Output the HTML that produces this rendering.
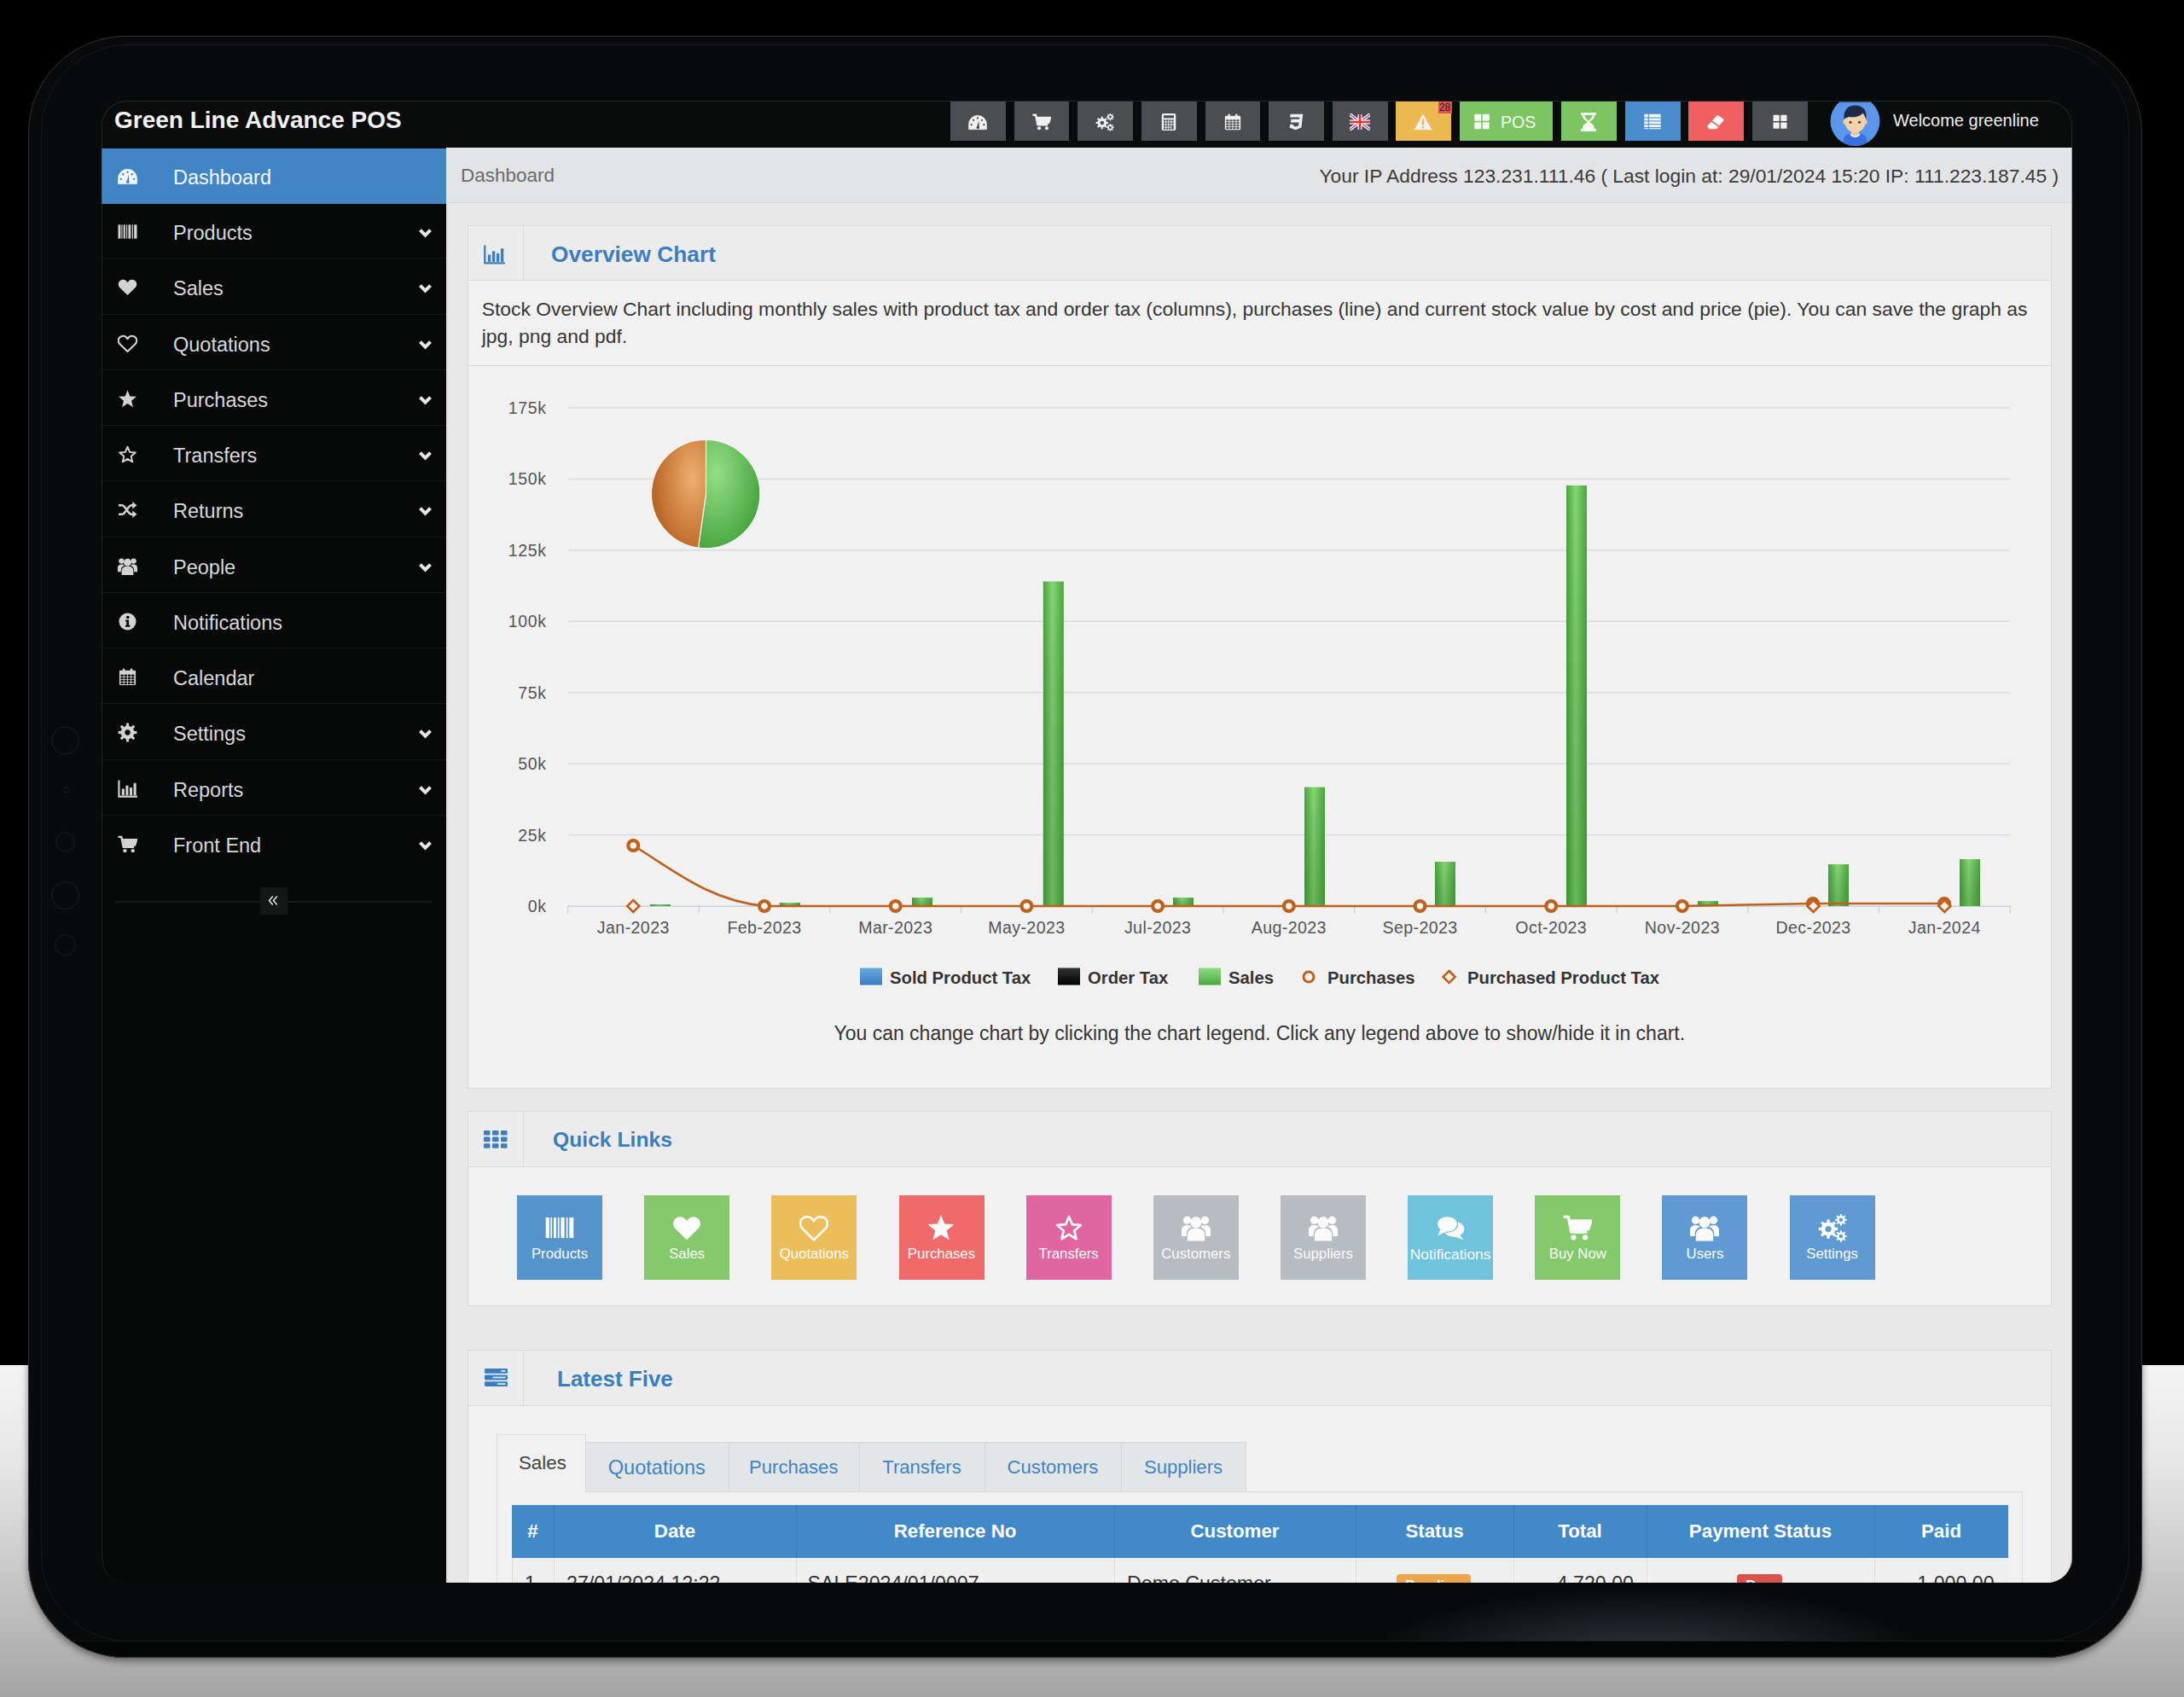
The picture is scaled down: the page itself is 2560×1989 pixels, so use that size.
<!DOCTYPE html>
<html><head><meta charset="utf-8"><style>
html,body{margin:0;padding:0;}
body{width:2560px;height:1989px;overflow:hidden;position:relative;background:#000;font-family:"Liberation Sans", sans-serif;}
</style></head><body>
<div style="position:absolute;left:0px;top:1600px;width:2560px;height:389px;background:linear-gradient(180deg,#f4f4f4 0%,#e6e6e6 30%,#bdbdbd 75%,#a4a4a4 100%)"></div><div style="position:absolute;left:33px;top:42px;width:2478px;height:1901px;background:#090a0b;border-radius:114px;overflow:hidden;box-shadow:0 4px 8px rgba(0,0,0,0.45)"><div style="position:absolute;left:1550px;top:1815px;width:700px;height:90px;background:radial-gradient(ellipse 330px 85px at 50% 100%,rgba(72,75,88,0.7),rgba(40,42,48,0))"></div><div style="position:absolute;left:0;top:1881px;width:2478px;height:20px;background:#040505;border-top:1px solid #121415"></div></div><div style="position:absolute;left:33px;top:42px;width:2478px;height:1901px;border-radius:114px;box-sizing:border-box;border:1.5px solid #2e3132"></div><div style="position:absolute;left:48px;top:52px;width:2448px;height:1872px;border-radius:102px;box-sizing:border-box;border:1px solid #17191a"></div><svg style="position:absolute;left:50px;top:840px;width:60px;height:300px" viewBox="50 840 60 300"><circle cx="76.7" cy="868" r="16" fill="none" stroke="#1d1f20" stroke-width="1"/><circle cx="78" cy="926" r="3" fill="none" stroke="#17191a" stroke-width="1"/><circle cx="76.7" cy="987" r="11" fill="none" stroke="#1b1d1e" stroke-width="1"/><circle cx="76.7" cy="1049.5" r="16" fill="none" stroke="#1d1f20" stroke-width="1"/><circle cx="76.7" cy="1107.6" r="12" fill="none" stroke="#1b1d1e" stroke-width="1"/></svg><div style="position:absolute;left:119px;top:118px;width:2310px;height:1737px;border-radius:29px;overflow:hidden;background:#0a0b0b"><div style="position:absolute;left:-119px;top:-118px;width:2560px;height:1989px"><div style="position:absolute;left:119px;top:118px;width:2310px;height:55px;background:#0a0b0b"></div><div style="position:absolute;left:134px;top:124.0px;line-height:34px;font-size:28px;color:#f2f2f2;font-weight:700;white-space:nowrap;">Green Line Advance POS</div><div style="position:absolute;left:1114px;top:119px;width:64.5px;height:46.2px;background:#4b4e51"></div><svg style="position:absolute;left:1135.25px;top:131.5px;width:22px;height:22px;" viewBox="0 0 24 24"><path d="M0.5 21.5 V15 A11.5 11.5 0 0 1 23.5 15 V21.5 Z" fill="#f0f0f0" stroke="#f0f0f0" stroke-width="0.6" stroke-linejoin="round"/><circle cx="4" cy="15.5" r="1.25" fill="#4b4e51"/><circle cx="6.6" cy="9.6" r="1.25" fill="#4b4e51"/><circle cx="12" cy="7" r="1.25" fill="#4b4e51"/><circle cx="17.4" cy="9.6" r="1.25" fill="#4b4e51"/><circle cx="20" cy="15.5" r="1.25" fill="#4b4e51"/><path d="M10.6 19 L13.6 10 L13.9 19.2 Z" fill="#4b4e51"/><circle cx="12.3" cy="19" r="1.9" fill="#4b4e51"/></svg><div style="position:absolute;left:1188.6px;top:119px;width:64.5px;height:46.2px;background:#4b4e51"></div><svg style="position:absolute;left:1209.85px;top:131.5px;width:22px;height:22px;" viewBox="0 0 24 24"><path d="M0.5 3 H4.5 L7 15.5 H20 M6.5 6.5 H23 L21 13 H7.8" fill="none" stroke="#f0f0f0" stroke-width="2.6" stroke-linejoin="round"/><path d="M6 6 H23 L21.2 13 H7.5 Z" fill="#f0f0f0"/><circle cx="8.8" cy="20" r="2.2" fill="#f0f0f0"/><circle cx="18.5" cy="20" r="2.2" fill="#f0f0f0"/></svg><div style="position:absolute;left:1263px;top:119px;width:64.5px;height:46.2px;background:#4b4e51"></div><svg style="position:absolute;left:1284.25px;top:131.5px;width:22px;height:22px;" viewBox="0 0 24 24"><path d="M14.17,11.76 L16.42,11.90 L16.42,14.10 L14.17,14.24 L13.38,16.13 L14.88,17.83 L13.33,19.38 L11.63,17.88 L9.74,18.67 L9.60,20.92 L7.40,20.92 L7.26,18.67 L5.37,17.88 L3.67,19.38 L2.12,17.83 L3.62,16.13 L2.83,14.24 L0.58,14.10 L0.58,11.90 L2.83,11.76 L3.62,9.87 L2.12,8.17 L3.67,6.62 L5.37,8.12 L7.26,7.33 L7.40,5.08 L9.60,5.08 L9.74,7.33 L11.63,8.12 L13.33,6.62 L14.88,8.17 L13.38,9.87 Z" fill="#f0f0f0"/><circle cx="8.5" cy="13" r="2.5" fill="#4b4e51"/><path d="M22.32,4.77 L23.75,4.84 L23.75,6.16 L22.32,6.23 L21.86,7.33 L22.83,8.40 L21.90,9.33 L20.83,8.36 L19.73,8.82 L19.66,10.25 L18.34,10.25 L18.27,8.82 L17.17,8.36 L16.10,9.33 L15.17,8.40 L16.14,7.33 L15.68,6.23 L14.25,6.16 L14.25,4.84 L15.68,4.77 L16.14,3.67 L15.17,2.60 L16.10,1.67 L17.17,2.64 L18.27,2.18 L18.34,0.75 L19.66,0.75 L19.73,2.18 L20.83,2.64 L21.90,1.67 L22.83,2.60 L21.86,3.67 Z" fill="#f0f0f0"/><circle cx="19" cy="5.5" r="1.6" fill="#4b4e51"/><path d="M22.32,18.27 L23.75,18.34 L23.75,19.66 L22.32,19.73 L21.86,20.83 L22.83,21.90 L21.90,22.83 L20.83,21.86 L19.73,22.32 L19.66,23.75 L18.34,23.75 L18.27,22.32 L17.17,21.86 L16.10,22.83 L15.17,21.90 L16.14,20.83 L15.68,19.73 L14.25,19.66 L14.25,18.34 L15.68,18.27 L16.14,17.17 L15.17,16.10 L16.10,15.17 L17.17,16.14 L18.27,15.68 L18.34,14.25 L19.66,14.25 L19.73,15.68 L20.83,16.14 L21.90,15.17 L22.83,16.10 L21.86,17.17 Z" fill="#f0f0f0"/><circle cx="19" cy="19" r="1.6" fill="#4b4e51"/></svg><div style="position:absolute;left:1338px;top:119px;width:64.5px;height:46.2px;background:#4b4e51"></div><svg style="position:absolute;left:1359.25px;top:131.5px;width:22px;height:22px;" viewBox="0 0 24 24"><rect x="3" y="1" width="18" height="22" rx="2" fill="#f0f0f0"/><rect x="5.5" y="3.5" width="13" height="3.5" fill="#4b4e51"/><rect x="5.5" y="9.0" width="2.4" height="2.4" fill="#4b4e51"/><rect x="5.5" y="12.4" width="2.4" height="2.4" fill="#4b4e51"/><rect x="5.5" y="15.8" width="2.4" height="2.4" fill="#4b4e51"/><rect x="5.5" y="19.2" width="2.4" height="2.4" fill="#4b4e51"/><rect x="8.9" y="9.0" width="2.4" height="2.4" fill="#4b4e51"/><rect x="8.9" y="12.4" width="2.4" height="2.4" fill="#4b4e51"/><rect x="8.9" y="15.8" width="2.4" height="2.4" fill="#4b4e51"/><rect x="8.9" y="19.2" width="2.4" height="2.4" fill="#4b4e51"/><rect x="12.3" y="9.0" width="2.4" height="2.4" fill="#4b4e51"/><rect x="12.3" y="12.4" width="2.4" height="2.4" fill="#4b4e51"/><rect x="12.3" y="15.8" width="2.4" height="2.4" fill="#4b4e51"/><rect x="12.3" y="19.2" width="2.4" height="2.4" fill="#4b4e51"/><rect x="15.7" y="9.0" width="2.4" height="2.4" fill="#4b4e51"/><rect x="15.7" y="12.4" width="2.4" height="2.4" fill="#4b4e51"/><rect x="15.7" y="15.8" width="2.4" height="5.8" fill="#4b4e51"/></svg><div style="position:absolute;left:1412.5px;top:119px;width:64.5px;height:46.2px;background:#4b4e51"></div><svg style="position:absolute;left:1433.75px;top:131.5px;width:22px;height:22px;" viewBox="0 0 24 24"><rect x="2" y="4" width="20" height="18" rx="1.5" fill="#f0f0f0"/><rect x="6" y="1.5" width="2.5" height="5" rx="1" fill="#f0f0f0"/><rect x="15.5" y="1.5" width="2.5" height="5" rx="1" fill="#f0f0f0"/><rect x="3.6" y="9.0" width="3.4" height="2.3" fill="#4b4e51"/><rect x="3.6" y="12.2" width="3.4" height="2.3" fill="#4b4e51"/><rect x="3.6" y="15.4" width="3.4" height="2.3" fill="#4b4e51"/><rect x="3.6" y="18.6" width="3.4" height="2.3" fill="#4b4e51"/><rect x="8.0" y="9.0" width="3.4" height="2.3" fill="#4b4e51"/><rect x="8.0" y="12.2" width="3.4" height="2.3" fill="#4b4e51"/><rect x="8.0" y="15.4" width="3.4" height="2.3" fill="#4b4e51"/><rect x="8.0" y="18.6" width="3.4" height="2.3" fill="#4b4e51"/><rect x="12.4" y="9.0" width="3.4" height="2.3" fill="#4b4e51"/><rect x="12.4" y="12.2" width="3.4" height="2.3" fill="#4b4e51"/><rect x="12.4" y="15.4" width="3.4" height="2.3" fill="#4b4e51"/><rect x="12.4" y="18.6" width="3.4" height="2.3" fill="#4b4e51"/><rect x="16.8" y="9.0" width="3.4" height="2.3" fill="#4b4e51"/><rect x="16.8" y="12.2" width="3.4" height="2.3" fill="#4b4e51"/><rect x="16.8" y="15.4" width="3.4" height="2.3" fill="#4b4e51"/><rect x="16.8" y="18.6" width="3.4" height="2.3" fill="#4b4e51"/></svg><div style="position:absolute;left:1487px;top:119px;width:64.5px;height:46.2px;background:#4b4e51"></div><svg style="position:absolute;left:1508.25px;top:131.5px;width:22px;height:22px;" viewBox="0 0 24 24"><path d="M5 2 H21 L19 19 L11.5 22 L4 19 L4.6 15 H8.6 L8.3 16.6 L11.8 18 L15.4 16.6 L15.9 12.5 H5.4 L6 8.5 H16.4 L16.8 6 H4.6 Z" fill="#f0f0f0"/></svg><div style="position:absolute;left:1562px;top:119px;width:64.5px;height:46.2px;background:#4b4e51"></div><svg style="position:absolute;left:1582.25px;top:132.5px;width:24px;height:20px;" viewBox="0 3 24 18"><rect x="0" y="3" width="24" height="18" fill="#2a4a8a"/><path d="M0 3 L24 21 M24 3 L0 21" stroke="#fff" stroke-width="4"/><path d="M0 3 L24 21 M24 3 L0 21" stroke="#d33" stroke-width="1.3"/><rect x="9.5" y="3" width="5" height="18" fill="#fff"/><rect x="0" y="9.5" width="24" height="5" fill="#fff"/><rect x="10.7" y="3" width="2.6" height="18" fill="#d33"/><rect x="0" y="10.7" width="24" height="2.6" fill="#d33"/></svg><div style="position:absolute;left:1636px;top:119px;width:64.5px;height:46.2px;background:#ebb94f"></div><svg style="position:absolute;left:1657.25px;top:131.5px;width:22px;height:22px;" viewBox="0 0 24 24"><path d="M12 1.5 L23.5 22 H0.5 Z" fill="#f0f0f0"/><rect x="10.8" y="8" width="2.4" height="8" fill="#ebb94f"/><rect x="10.8" y="17.5" width="2.4" height="2.4" fill="#ebb94f"/></svg><div style="position:absolute;left:1685.5px;top:119px;width:16px;height:13.8px;background:#e0524f"></div><div style="position:absolute;left:1193.5px;width:1000px;text-align:center;top:119.5px;line-height:13px;font-size:12px;color:#1a1a1a;font-weight:400;white-space:nowrap;">28</div><div style="position:absolute;left:1711.4px;top:119px;width:108.6px;height:46.2px;background:#7dc462"></div><svg style="position:absolute;left:1727px;top:133px;width:20px;height:19px;" viewBox="0 0 24 24"><rect x="1" y="1" width="10" height="10" rx="1" fill="#f4fbf0"/><rect x="13" y="1" width="10" height="10" rx="1" fill="#f4fbf0"/><rect x="1" y="13" width="10" height="10" rx="1" fill="#f4fbf0"/><rect x="13" y="13" width="10" height="10" rx="1" fill="#f4fbf0"/></svg><div style="position:absolute;left:1759px;top:131.5px;line-height:22px;font-size:19.5px;color:#f4fbf0;font-weight:400;white-space:nowrap;">POS</div><div style="position:absolute;left:1829.6px;top:119px;width:65px;height:46.2px;background:#7dc462"></div><div style="position:absolute;left:1904.5px;top:119px;width:65px;height:46.2px;background:#4a8ccc"></div><div style="position:absolute;left:1979px;top:119px;width:65px;height:46.2px;background:#ef6060"></div><div style="position:absolute;left:2053.5px;top:119px;width:65px;height:46.2px;background:#4b4e51"></div><svg style="position:absolute;left:1850px;top:131px;width:24px;height:24px;" viewBox="0 0 24 24"><rect x="3" y="1" width="18" height="3" fill="#f4fbf0"/><rect x="3" y="20" width="18" height="3" fill="#f4fbf0"/><path d="M5 4 C5 10 10.5 10.5 10.5 12 C10.5 13.5 5 14 5 20 H19 C19 14 13.5 13.5 13.5 12 C13.5 10.5 19 10 19 4 H16.5 C16.5 8 12.5 9 12 11 C11.5 9 7.5 8 7.5 4 Z" fill="#f4fbf0"/><path d="M7.5 19 C8 15.5 11 15 12 14 C13 15 16 15.5 16.5 19 Z" fill="#f4fbf0"/></svg><svg style="position:absolute;left:1926px;top:132px;width:22px;height:21px;" viewBox="0 0 24 24"><rect x="1" y="2" width="22" height="20" fill="#f0f6fc"/><rect x="1" y="6.3" width="22" height="1.2" fill="#4a8ccc"/><rect x="1" y="10.7" width="22" height="1.2" fill="#4a8ccc"/><rect x="1" y="15.1" width="22" height="1.2" fill="#4a8ccc"/><rect x="1" y="19.5" width="22" height="1.2" fill="#4a8ccc"/><rect x="6" y="2" width="1.2" height="20" fill="#4a8ccc"/></svg><svg style="position:absolute;left:2000px;top:132px;width:22px;height:22px;" viewBox="0 0 24 24"><path d="M14.5 3 L23 9 L13 21 H4 L1 17.5 Z" fill="#ffffff"/><path d="M7 11 L16 17.5" stroke="#ee5f5b" stroke-width="1.8"/><path d="M1.5 18 L5.5 12.5 L12.5 17.5 L9.7 21 H4 Z" fill="#ee5f5b" opacity="0.0"/></svg><svg style="position:absolute;left:2076.5px;top:134px;width:19px;height:17.5px;" viewBox="0 0 24 24"><rect x="1" y="1" width="10" height="10" rx="1" fill="#f0f0f0"/><rect x="13" y="1" width="10" height="10" rx="1" fill="#f0f0f0"/><rect x="1" y="13" width="10" height="10" rx="1" fill="#f0f0f0"/><rect x="13" y="13" width="10" height="10" rx="1" fill="#f0f0f0"/></svg><svg style="position:absolute;left:2144.5px;top:112.5px;width:59px;height:58px" viewBox="0 0 59 58"><defs><clipPath id="avc"><path d="M0 6.5 H59 V58 H0 Z"/></clipPath><clipPath id="avc2"><circle cx="29.5" cy="29" r="29"/></clipPath></defs><g clip-path="url(#avc)"><circle cx="29.5" cy="29" r="29" fill="#5a96ea"/><g clip-path="url(#avc2)"><path d="M13 60 L17 47 C20 44 24 43 29.5 43 C35 43 39 44 42 47 L46 60 Z" fill="#3a6fe2"/><path d="M23.5 44.5 C25 49 34 49 35.5 44.5 L33.5 43 C32 46 27 46 25.5 43 Z" fill="#e9f0fb"/><path d="M25 36 H34 V44 C32 47 27 47 25 44 Z" fill="#e8c79f"/><path d="M16.5 27 C16.5 18 22 15 29.5 15 C37 15 42.5 18 42.5 27 C42.5 35 37 42.5 29.5 42.5 C22 42.5 16.5 35 16.5 27 Z" fill="#f0d3ac"/><ellipse cx="16.8" cy="30" rx="1.6" ry="2.6" fill="#ecc9a0"/><ellipse cx="42.2" cy="30" rx="1.6" ry="2.6" fill="#ecc9a0"/><path d="M16.5 27 C15.5 15 22 10.5 29.5 10.5 C34 10.5 36 11.5 37.5 13 C41 14 43 19 42.5 27 C41 24 40 21 38.5 19.5 C36 23 30 25 22 24 C19 25 17.5 26 16.5 27 Z" fill="#1f2a44"/><circle cx="24" cy="30.2" r="1.5" fill="#4a3a2e"/><circle cx="34.5" cy="30.2" r="1.5" fill="#4a3a2e"/></g></g></svg><div style="position:absolute;left:2219px;top:129.0px;line-height:24px;font-size:20px;color:#f0f0f0;font-weight:400;white-space:nowrap;">Welcome greenline</div><div style="position:absolute;left:119px;top:173px;width:404px;height:1682px;background:#070808"></div><div style="position:absolute;left:119px;top:173.5px;width:404px;height:65.5px;background:#4285c5"></div><svg style="position:absolute;left:138px;top:194.5px;width:23px;height:23px;" viewBox="0 0 24 24"><path d="M0.5 21.5 V15 A11.5 11.5 0 0 1 23.5 15 V21.5 Z" fill="#f4f8fc" stroke="#f4f8fc" stroke-width="0.6" stroke-linejoin="round"/><circle cx="4" cy="15.5" r="1.25" fill="#4285c5"/><circle cx="6.6" cy="9.6" r="1.25" fill="#4285c5"/><circle cx="12" cy="7" r="1.25" fill="#4285c5"/><circle cx="17.4" cy="9.6" r="1.25" fill="#4285c5"/><circle cx="20" cy="15.5" r="1.25" fill="#4285c5"/><path d="M10.6 19 L13.6 10 L13.9 19.2 Z" fill="#4285c5"/><circle cx="12.3" cy="19" r="1.9" fill="#4285c5"/></svg><div style="position:absolute;left:203px;top:193.5px;line-height:28px;font-size:23.5px;color:#f4f8fc;font-weight:400;white-space:nowrap;">Dashboard</div><div style="position:absolute;left:119px;top:302.25px;width:404px;height:1px;background:#161818"></div><svg style="position:absolute;left:138px;top:260.0px;width:23px;height:23px;" viewBox="0 0 24 24"><rect x="0.5" y="3.5" width="3" height="17" fill="#d2d2d2"/><rect x="4.5" y="3.5" width="1.2" height="17" fill="#d2d2d2"/><rect x="7" y="3.5" width="2.2" height="17" fill="#d2d2d2"/><rect x="10.5" y="3.5" width="1.2" height="17" fill="#d2d2d2"/><rect x="13" y="3.5" width="3" height="17" fill="#d2d2d2"/><rect x="17.5" y="3.5" width="1.2" height="17" fill="#d2d2d2"/><rect x="20" y="3.5" width="3.5" height="17" fill="#d2d2d2"/></svg><div style="position:absolute;left:203px;top:259.0px;line-height:28px;font-size:23.5px;color:#d8d8d8;font-weight:400;white-space:nowrap;">Products</div><svg style="position:absolute;left:489.5px;top:264.0px;width:17px;height:17px;" viewBox="0 0 24 24"><path d="M3.5 8 L12 16.5 L20.5 8" fill="none" stroke="#e6e6e6" stroke-width="5.6" stroke-linecap="butt"/></svg><div style="position:absolute;left:119px;top:367.5px;width:404px;height:1px;background:#161818"></div><svg style="position:absolute;left:138px;top:325.25px;width:23px;height:23px;" viewBox="0 0 24 24"><path d="M12 22 L2.6 12.8 C-0.4 9.8 0.4 4.6 4.3 3.3 C7.3 2.3 10.4 3.6 12 6.4 C13.6 3.6 16.7 2.3 19.7 3.3 C23.6 4.6 24.4 9.8 21.4 12.8 Z" fill="#d2d2d2"/></svg><div style="position:absolute;left:203px;top:324.2px;line-height:28px;font-size:23.5px;color:#d8d8d8;font-weight:400;white-space:nowrap;">Sales</div><svg style="position:absolute;left:489.5px;top:329.25px;width:17px;height:17px;" viewBox="0 0 24 24"><path d="M3.5 8 L12 16.5 L20.5 8" fill="none" stroke="#e6e6e6" stroke-width="5.6" stroke-linecap="butt"/></svg><div style="position:absolute;left:119px;top:432.75px;width:404px;height:1px;background:#161818"></div><svg style="position:absolute;left:138px;top:390.5px;width:23px;height:23px;" viewBox="0 0 24 24"><path d="M12 22 L2.6 12.8 C-0.4 9.8 0.4 4.6 4.3 3.3 C7.3 2.3 10.4 3.6 12 6.4 C13.6 3.6 16.7 2.3 19.7 3.3 C23.6 4.6 24.4 9.8 21.4 12.8 Z" fill="none" stroke="#d2d2d2" stroke-width="2.2" stroke-linejoin="round"/></svg><div style="position:absolute;left:203px;top:389.5px;line-height:28px;font-size:23.5px;color:#d8d8d8;font-weight:400;white-space:nowrap;">Quotations</div><svg style="position:absolute;left:489.5px;top:394.5px;width:17px;height:17px;" viewBox="0 0 24 24"><path d="M3.5 8 L12 16.5 L20.5 8" fill="none" stroke="#e6e6e6" stroke-width="5.6" stroke-linecap="butt"/></svg><div style="position:absolute;left:119px;top:498.0px;width:404px;height:1px;background:#161818"></div><svg style="position:absolute;left:138px;top:455.75px;width:23px;height:23px;" viewBox="0 0 24 24"><polygon points="12.00,1.30 14.94,8.75 22.94,9.25 16.76,14.35 18.76,22.10 12.00,17.80 5.24,22.10 7.24,14.35 1.06,9.25 9.06,8.75" fill="#d2d2d2"/></svg><div style="position:absolute;left:203px;top:454.8px;line-height:28px;font-size:23.5px;color:#d8d8d8;font-weight:400;white-space:nowrap;">Purchases</div><svg style="position:absolute;left:489.5px;top:459.75px;width:17px;height:17px;" viewBox="0 0 24 24"><path d="M3.5 8 L12 16.5 L20.5 8" fill="none" stroke="#e6e6e6" stroke-width="5.6" stroke-linecap="butt"/></svg><div style="position:absolute;left:119px;top:563.25px;width:404px;height:1px;background:#161818"></div><svg style="position:absolute;left:138px;top:521.0px;width:23px;height:23px;" viewBox="0 0 24 24"><polygon points="12.00,2.80 14.70,9.28 21.70,9.85 16.37,14.42 18.00,21.25 12.00,17.60 6.00,21.25 7.63,14.42 2.30,9.85 9.30,9.28" fill="none" stroke="#d2d2d2" stroke-width="2" stroke-linejoin="round"/></svg><div style="position:absolute;left:203px;top:520.0px;line-height:28px;font-size:23.5px;color:#d8d8d8;font-weight:400;white-space:nowrap;">Transfers</div><svg style="position:absolute;left:489.5px;top:525.0px;width:17px;height:17px;" viewBox="0 0 24 24"><path d="M3.5 8 L12 16.5 L20.5 8" fill="none" stroke="#e6e6e6" stroke-width="5.6" stroke-linecap="butt"/></svg><div style="position:absolute;left:119px;top:628.5px;width:404px;height:1px;background:#161818"></div><svg style="position:absolute;left:138px;top:586.25px;width:23px;height:23px;" viewBox="0 0 24 24"><path d="M1 6.5 H5 C10 6.5 12 17.5 17 17.5 H19" fill="none" stroke="#d2d2d2" stroke-width="2.6"/><path d="M1 17.5 H5 C10 17.5 12 6.5 17 6.5 H19" fill="none" stroke="#d2d2d2" stroke-width="2.6"/><path d="M18 2 L23.5 6.5 L18 11 Z" fill="#d2d2d2"/><path d="M18 13 L23.5 17.5 L18 22 Z" fill="#d2d2d2"/></svg><div style="position:absolute;left:203px;top:585.2px;line-height:28px;font-size:23.5px;color:#d8d8d8;font-weight:400;white-space:nowrap;">Returns</div><svg style="position:absolute;left:489.5px;top:590.25px;width:17px;height:17px;" viewBox="0 0 24 24"><path d="M3.5 8 L12 16.5 L20.5 8" fill="none" stroke="#e6e6e6" stroke-width="5.6" stroke-linecap="butt"/></svg><div style="position:absolute;left:119px;top:693.75px;width:404px;height:1px;background:#161818"></div><svg style="position:absolute;left:138px;top:651.5px;width:23px;height:23px;" viewBox="0 0 24 24"><circle cx="12" cy="7.5" r="4.6" fill="#d2d2d2"/><path d="M4.8 23 V18.5 C4.8 13.5 8 12.3 12 12.3 C16 12.3 19.2 13.5 19.2 18.5 V23 Z" fill="#d2d2d2"/><circle cx="4.6" cy="5.8" r="3.3" fill="#d2d2d2"/><path d="M0 19 V14.5 C0 10.5 2.5 9.8 4.6 9.8 C6.5 9.8 7.8 10.3 8.4 11.3 C5.5 12.3 4 14.5 4 17.5 V19 Z" fill="#d2d2d2"/><circle cx="19.4" cy="5.8" r="3.3" fill="#d2d2d2"/><path d="M24 19 V14.5 C24 10.5 21.5 9.8 19.4 9.8 C17.5 9.8 16.2 10.3 15.6 11.3 C18.5 12.3 20 14.5 20 17.5 V19 Z" fill="#d2d2d2"/></svg><div style="position:absolute;left:203px;top:650.5px;line-height:28px;font-size:23.5px;color:#d8d8d8;font-weight:400;white-space:nowrap;">People</div><svg style="position:absolute;left:489.5px;top:655.5px;width:17px;height:17px;" viewBox="0 0 24 24"><path d="M3.5 8 L12 16.5 L20.5 8" fill="none" stroke="#e6e6e6" stroke-width="5.6" stroke-linecap="butt"/></svg><div style="position:absolute;left:119px;top:759.0px;width:404px;height:1px;background:#161818"></div><svg style="position:absolute;left:138px;top:716.75px;width:23px;height:23px;" viewBox="0 0 24 24"><circle cx="12" cy="12" r="10.5" fill="#d2d2d2"/><circle cx="12.3" cy="6.8" r="1.9" fill="#070808"/><path d="M9.5 10 H13.6 V16.5 H15 V18.5 H9.3 V16.5 H10.7 V12 H9.5 Z" fill="#070808"/></svg><div style="position:absolute;left:203px;top:715.8px;line-height:28px;font-size:23.5px;color:#d8d8d8;font-weight:400;white-space:nowrap;">Notifications</div><div style="position:absolute;left:119px;top:824.25px;width:404px;height:1px;background:#161818"></div><svg style="position:absolute;left:138px;top:782.0px;width:23px;height:23px;" viewBox="0 0 24 24"><rect x="2" y="4" width="20" height="18" rx="1.5" fill="#d2d2d2"/><rect x="6" y="1.5" width="2.5" height="5" rx="1" fill="#d2d2d2"/><rect x="15.5" y="1.5" width="2.5" height="5" rx="1" fill="#d2d2d2"/><rect x="3.6" y="9.0" width="3.4" height="2.3" fill="#070808"/><rect x="3.6" y="12.2" width="3.4" height="2.3" fill="#070808"/><rect x="3.6" y="15.4" width="3.4" height="2.3" fill="#070808"/><rect x="3.6" y="18.6" width="3.4" height="2.3" fill="#070808"/><rect x="8.0" y="9.0" width="3.4" height="2.3" fill="#070808"/><rect x="8.0" y="12.2" width="3.4" height="2.3" fill="#070808"/><rect x="8.0" y="15.4" width="3.4" height="2.3" fill="#070808"/><rect x="8.0" y="18.6" width="3.4" height="2.3" fill="#070808"/><rect x="12.4" y="9.0" width="3.4" height="2.3" fill="#070808"/><rect x="12.4" y="12.2" width="3.4" height="2.3" fill="#070808"/><rect x="12.4" y="15.4" width="3.4" height="2.3" fill="#070808"/><rect x="12.4" y="18.6" width="3.4" height="2.3" fill="#070808"/><rect x="16.8" y="9.0" width="3.4" height="2.3" fill="#070808"/><rect x="16.8" y="12.2" width="3.4" height="2.3" fill="#070808"/><rect x="16.8" y="15.4" width="3.4" height="2.3" fill="#070808"/><rect x="16.8" y="18.6" width="3.4" height="2.3" fill="#070808"/></svg><div style="position:absolute;left:203px;top:781.0px;line-height:28px;font-size:23.5px;color:#d8d8d8;font-weight:400;white-space:nowrap;">Calendar</div><div style="position:absolute;left:119px;top:889.5px;width:404px;height:1px;background:#161818"></div><svg style="position:absolute;left:138px;top:847.25px;width:23px;height:23px;" viewBox="0 0 24 24"><path d="M20.01,10.24 L23.39,10.42 L23.39,13.58 L20.01,13.76 L18.91,16.42 L21.17,18.94 L18.94,21.17 L16.42,18.91 L13.76,20.01 L13.58,23.39 L10.42,23.39 L10.24,20.01 L7.58,18.91 L5.06,21.17 L2.83,18.94 L5.09,16.42 L3.99,13.76 L0.61,13.58 L0.61,10.42 L3.99,10.24 L5.09,7.58 L2.83,5.06 L5.06,2.83 L7.58,5.09 L10.24,3.99 L10.42,0.61 L13.58,0.61 L13.76,3.99 L16.42,5.09 L18.94,2.83 L21.17,5.06 L18.91,7.58 Z" fill="#d2d2d2"/><circle cx="12" cy="12" r="3.3" fill="#070808"/></svg><div style="position:absolute;left:203px;top:846.2px;line-height:28px;font-size:23.5px;color:#d8d8d8;font-weight:400;white-space:nowrap;">Settings</div><svg style="position:absolute;left:489.5px;top:851.25px;width:17px;height:17px;" viewBox="0 0 24 24"><path d="M3.5 8 L12 16.5 L20.5 8" fill="none" stroke="#e6e6e6" stroke-width="5.6" stroke-linecap="butt"/></svg><div style="position:absolute;left:119px;top:954.75px;width:404px;height:1px;background:#161818"></div><svg style="position:absolute;left:138px;top:912.5px;width:23px;height:23px;" viewBox="0 0 24 24"><path d="M1.5 1.5 V21.5 H24" fill="none" stroke="#d2d2d2" stroke-width="2.2"/><rect x="5" y="12" width="3.2" height="8" fill="#d2d2d2"/><rect x="9.8" y="8" width="3.2" height="12" fill="#d2d2d2"/><rect x="14.6" y="10.5" width="3.2" height="9.5" fill="#d2d2d2"/><rect x="19.4" y="5" width="3.2" height="15" fill="#d2d2d2"/></svg><div style="position:absolute;left:203px;top:911.5px;line-height:28px;font-size:23.5px;color:#d8d8d8;font-weight:400;white-space:nowrap;">Reports</div><svg style="position:absolute;left:489.5px;top:916.5px;width:17px;height:17px;" viewBox="0 0 24 24"><path d="M3.5 8 L12 16.5 L20.5 8" fill="none" stroke="#e6e6e6" stroke-width="5.6" stroke-linecap="butt"/></svg><svg style="position:absolute;left:138px;top:977.75px;width:23px;height:23px;" viewBox="0 0 24 24"><path d="M0.5 3 H4.5 L7 15.5 H20 M6.5 6.5 H23 L21 13 H7.8" fill="none" stroke="#d2d2d2" stroke-width="2.6" stroke-linejoin="round"/><path d="M6 6 H23 L21.2 13 H7.5 Z" fill="#d2d2d2"/><circle cx="8.8" cy="20" r="2.2" fill="#d2d2d2"/><circle cx="18.5" cy="20" r="2.2" fill="#d2d2d2"/></svg><div style="position:absolute;left:203px;top:976.8px;line-height:28px;font-size:23.5px;color:#d8d8d8;font-weight:400;white-space:nowrap;">Front End</div><svg style="position:absolute;left:489.5px;top:981.75px;width:17px;height:17px;" viewBox="0 0 24 24"><path d="M3.5 8 L12 16.5 L20.5 8" fill="none" stroke="#e6e6e6" stroke-width="5.6" stroke-linecap="butt"/></svg><div style="position:absolute;left:134.5px;top:1056px;width:371.5px;height:1.5px;background:#1a1c1c"></div><div style="position:absolute;left:304.5px;top:1039.5px;width:32px;height:32.5px;background:#161818;border-radius:2px"></div><svg style="position:absolute;left:312px;top:1047px;width:17px;height:17px;" viewBox="0 0 24 24"><path d="M11 5 L5 12 L11 19 M18 5 L12 12 L18 19" fill="none" stroke="#e0e0e0" stroke-width="2.2"/></svg><div style="position:absolute;left:523px;top:173px;width:1906px;height:1682px;background:#e8e8e8"></div><div style="position:absolute;left:523px;top:173px;width:3px;height:1682px;background:linear-gradient(90deg,#d6d7d8,#e8e8e8)"></div><div style="position:absolute;left:523px;top:173px;width:1906px;height:65px;background:#e3e4e6;border-bottom:1px solid #d6d7d9;box-sizing:border-box"></div><div style="position:absolute;left:540px;top:191.5px;line-height:28px;font-size:22.5px;color:#6b6b6b;font-weight:400;white-space:nowrap;">Dashboard</div><div style="position:absolute;right:147px;top:191.5px;line-height:28px;font-size:22.8px;color:#3a3a3a;font-weight:400;white-space:nowrap;">Your IP Address 123.231.111.46 ( Last login at: 29/01/2024 15:20 IP: 111.223.187.45 )</div><div style="position:absolute;left:547.8px;top:263.7px;width:1857.7px;height:1012.3px;background:#f1f1f1;border:1px solid #d9dadb;box-sizing:border-box"></div><div style="position:absolute;left:547.8px;top:263.7px;width:1857.7px;height:65.5px;background:#ececec;border:1px solid #d9dadb;box-sizing:border-box"></div><div style="position:absolute;left:613px;top:263.7px;width:1px;height:65.5px;background:#d9dadb"></div><svg style="position:absolute;left:564px;top:285.5px;width:31px;height:24px;" viewBox="0 0 24.5 23"><path d="M1.5 1.5 V21.5 H24" fill="none" stroke="#3a7ebf" stroke-width="2.2"/><rect x="5" y="12" width="3.2" height="8" fill="#3a7ebf"/><rect x="9.8" y="8" width="3.2" height="12" fill="#3a7ebf"/><rect x="14.6" y="10.5" width="3.2" height="9.5" fill="#3a7ebf"/><rect x="19.4" y="5" width="3.2" height="15" fill="#3a7ebf"/></svg><div style="position:absolute;left:646px;top:281.7px;line-height:32px;font-size:26.3px;color:#3a7ebf;font-weight:700;white-space:nowrap;">Overview Chart</div><div style="position:absolute;left:547.8px;top:428px;width:1857.7px;height:1px;background:#d9dadb"></div><div style="position:absolute;left:564.7px;top:346.0px;line-height:32px;font-size:22.9px;color:#353535;font-weight:400;white-space:nowrap;">Stock Overview Chart including monthly sales with product tax and order tax (columns), purchases (line) and current stock value by cost and price (pie). You can save the graph as</div><div style="position:absolute;left:564.7px;top:378.0px;line-height:32px;font-size:22.9px;color:#353535;font-weight:400;white-space:nowrap;">jpg, png and pdf.</div><svg style="position:absolute;left:0;top:0;width:2560px;height:1989px;overflow:visible" viewBox="0 0 2560 1989"><defs><linearGradient id="gbar" x1="0" x2="1" y1="0" y2="0"><stop offset="0" stop-color="#47a53c"/><stop offset="0.45" stop-color="#86d676"/><stop offset="1" stop-color="#4aa83e"/></linearGradient><linearGradient id="gbarv" x1="0" x2="0" y1="0" y2="1"><stop offset="0" stop-color="#000" stop-opacity="0"/><stop offset="1" stop-color="#1a5a12" stop-opacity="0.25"/></linearGradient><radialGradient id="gor" cx="0.75" cy="0.35" r="0.8"><stop offset="0" stop-color="#eeae70"/><stop offset="1" stop-color="#b55e1c"/></radialGradient><radialGradient id="ggr" cx="0.3" cy="0.3" r="0.85"><stop offset="0" stop-color="#93df85"/><stop offset="1" stop-color="#3c9c34"/></radialGradient><linearGradient id="gblue" x1="0" x2="0" y1="0" y2="1"><stop offset="0" stop-color="#6aa8e0"/><stop offset="1" stop-color="#3a7cc0"/></linearGradient><linearGradient id="ggreen" x1="0" x2="0" y1="0" y2="1"><stop offset="0" stop-color="#8fdc80"/><stop offset="1" stop-color="#4aa83e"/></linearGradient><linearGradient id="gblack" x1="0" x2="0" y1="0" y2="1"><stop offset="0" stop-color="#333"/><stop offset="1" stop-color="#000"/></linearGradient></defs><rect x="666" y="477.2" width="1690" height="1.5" fill="#d9dcdf"/><text x="640.5" y="485.0" text-anchor="end" font-size="19.5" fill="#555" font-family="Liberation Sans" letter-spacing="0.6">175k</text><rect x="666" y="560.7" width="1690" height="1.5" fill="#d9dcdf"/><text x="640.5" y="568.4" text-anchor="end" font-size="19.5" fill="#555" font-family="Liberation Sans" letter-spacing="0.6">150k</text><rect x="666" y="644.1" width="1690" height="1.5" fill="#d9dcdf"/><text x="640.5" y="651.8" text-anchor="end" font-size="19.5" fill="#555" font-family="Liberation Sans" letter-spacing="0.6">125k</text><rect x="666" y="727.5" width="1690" height="1.5" fill="#d9dcdf"/><text x="640.5" y="735.3" text-anchor="end" font-size="19.5" fill="#555" font-family="Liberation Sans" letter-spacing="0.6">100k</text><rect x="666" y="811.0" width="1690" height="1.5" fill="#d9dcdf"/><text x="640.5" y="818.7" text-anchor="end" font-size="19.5" fill="#555" font-family="Liberation Sans" letter-spacing="0.6">75k</text><rect x="666" y="894.4" width="1690" height="1.5" fill="#d9dcdf"/><text x="640.5" y="902.1" text-anchor="end" font-size="19.5" fill="#555" font-family="Liberation Sans" letter-spacing="0.6">50k</text><rect x="666" y="977.8" width="1690" height="1.5" fill="#d9dcdf"/><text x="640.5" y="985.6" text-anchor="end" font-size="19.5" fill="#555" font-family="Liberation Sans" letter-spacing="0.6">25k</text><text x="640.5" y="1069.0" text-anchor="end" font-size="19.5" fill="#555" font-family="Liberation Sans" letter-spacing="0.6">0k</text><rect x="665" y="1061.5" width="1691" height="1.5" fill="#c5d3e0"/><rect x="664.9" y="1062" width="1.2" height="9" fill="#c5d3e0"/><rect x="818.6" y="1062" width="1.2" height="9" fill="#c5d3e0"/><rect x="972.3" y="1062" width="1.2" height="9" fill="#c5d3e0"/><rect x="1126.0" y="1062" width="1.2" height="9" fill="#c5d3e0"/><rect x="1279.7" y="1062" width="1.2" height="9" fill="#c5d3e0"/><rect x="1433.4" y="1062" width="1.2" height="9" fill="#c5d3e0"/><rect x="1587.1" y="1062" width="1.2" height="9" fill="#c5d3e0"/><rect x="1740.8" y="1062" width="1.2" height="9" fill="#c5d3e0"/><rect x="1894.5" y="1062" width="1.2" height="9" fill="#c5d3e0"/><rect x="2048.2" y="1062" width="1.2" height="9" fill="#c5d3e0"/><rect x="2201.9" y="1062" width="1.2" height="9" fill="#c5d3e0"/><rect x="2355.6" y="1062" width="1.2" height="9" fill="#c5d3e0"/><text x="742.3" y="1094" text-anchor="middle" font-size="19.6" fill="#555" font-family="Liberation Sans" letter-spacing="0.4">Jan-2023</text><text x="896.0" y="1094" text-anchor="middle" font-size="19.6" fill="#555" font-family="Liberation Sans" letter-spacing="0.4">Feb-2023</text><text x="1049.7" y="1094" text-anchor="middle" font-size="19.6" fill="#555" font-family="Liberation Sans" letter-spacing="0.4">Mar-2023</text><text x="1203.4" y="1094" text-anchor="middle" font-size="19.6" fill="#555" font-family="Liberation Sans" letter-spacing="0.4">May-2023</text><text x="1357.1" y="1094" text-anchor="middle" font-size="19.6" fill="#555" font-family="Liberation Sans" letter-spacing="0.4">Jul-2023</text><text x="1510.8" y="1094" text-anchor="middle" font-size="19.6" fill="#555" font-family="Liberation Sans" letter-spacing="0.4">Aug-2023</text><text x="1664.5" y="1094" text-anchor="middle" font-size="19.6" fill="#555" font-family="Liberation Sans" letter-spacing="0.4">Sep-2023</text><text x="1818.2" y="1094" text-anchor="middle" font-size="19.6" fill="#555" font-family="Liberation Sans" letter-spacing="0.4">Oct-2023</text><text x="1971.9" y="1094" text-anchor="middle" font-size="19.6" fill="#555" font-family="Liberation Sans" letter-spacing="0.4">Nov-2023</text><text x="2125.6" y="1094" text-anchor="middle" font-size="19.6" fill="#555" font-family="Liberation Sans" letter-spacing="0.4">Dec-2023</text><text x="2279.3" y="1094" text-anchor="middle" font-size="19.6" fill="#555" font-family="Liberation Sans" letter-spacing="0.4">Jan-2024</text><rect x="762" y="1060" width="24" height="2.0" fill="url(#gbar)"/><rect x="762" y="1060" width="24" height="2.0" fill="url(#gbarv)"/><rect x="914" y="1058" width="24" height="4.0" fill="url(#gbar)"/><rect x="914" y="1058" width="24" height="4.0" fill="url(#gbarv)"/><rect x="1069" y="1052" width="24" height="10.0" fill="url(#gbar)"/><rect x="1069" y="1052" width="24" height="10.0" fill="url(#gbarv)"/><rect x="1222.8" y="681.5" width="24" height="380.5" fill="url(#gbar)"/><rect x="1222.8" y="681.5" width="24" height="380.5" fill="url(#gbarv)"/><rect x="1375" y="1052" width="24" height="10.0" fill="url(#gbar)"/><rect x="1375" y="1052" width="24" height="10.0" fill="url(#gbarv)"/><rect x="1529" y="922.6" width="24" height="139.4" fill="url(#gbar)"/><rect x="1529" y="922.6" width="24" height="139.4" fill="url(#gbarv)"/><rect x="1682" y="1010" width="24" height="52.0" fill="url(#gbar)"/><rect x="1682" y="1010" width="24" height="52.0" fill="url(#gbarv)"/><rect x="1836" y="569" width="24" height="493.0" fill="url(#gbar)"/><rect x="1836" y="569" width="24" height="493.0" fill="url(#gbarv)"/><rect x="1990" y="1056" width="24" height="6.0" fill="url(#gbar)"/><rect x="1990" y="1056" width="24" height="6.0" fill="url(#gbarv)"/><rect x="2143" y="1013" width="24" height="49.0" fill="url(#gbar)"/><rect x="2143" y="1013" width="24" height="49.0" fill="url(#gbarv)"/><rect x="2297" y="1007" width="24" height="55.0" fill="url(#gbar)"/><rect x="2297" y="1007" width="24" height="55.0" fill="url(#gbarv)"/><path d="M742.3 991 C790 1020 830 1055 896 1062 L1971 1062 L2125 1059 L2279 1059" fill="none" stroke="#bd611d" stroke-width="2.6"/><circle cx="742.3" cy="991.0" r="5.9" fill="#f6efe8" stroke="#bd611d" stroke-width="4.2"/><circle cx="896.0" cy="1062.0" r="5.9" fill="#f6efe8" stroke="#bd611d" stroke-width="4.2"/><circle cx="1049.7" cy="1062.0" r="5.9" fill="#f6efe8" stroke="#bd611d" stroke-width="4.2"/><circle cx="1203.4" cy="1062.0" r="5.9" fill="#f6efe8" stroke="#bd611d" stroke-width="4.2"/><circle cx="1357.1" cy="1062.0" r="5.9" fill="#f6efe8" stroke="#bd611d" stroke-width="4.2"/><circle cx="1510.8" cy="1062.0" r="5.9" fill="#f6efe8" stroke="#bd611d" stroke-width="4.2"/><circle cx="1664.5" cy="1062.0" r="5.9" fill="#f6efe8" stroke="#bd611d" stroke-width="4.2"/><circle cx="1818.2" cy="1062.0" r="5.9" fill="#f6efe8" stroke="#bd611d" stroke-width="4.2"/><circle cx="1971.9" cy="1062.0" r="5.9" fill="#f6efe8" stroke="#bd611d" stroke-width="4.2"/><circle cx="2125.0" cy="1059.0" r="5.9" fill="#f6efe8" stroke="#bd611d" stroke-width="4.2"/><circle cx="2279.0" cy="1059.0" r="5.9" fill="#f6efe8" stroke="#bd611d" stroke-width="4.2"/><path d="M742.3 1055.0 L749.3 1062.0 L742.3 1069.0 L735.3 1062.0 Z" fill="#f6efe8" stroke="#bd611d" stroke-width="2.6"/><path d="M896.0 1058.2 L899.8 1062.0 L896.0 1065.8 L892.2 1062.0 Z" fill="#fbf6f0"/><path d="M1049.7 1058.2 L1053.5 1062.0 L1049.7 1065.8 L1045.9 1062.0 Z" fill="#fbf6f0"/><path d="M1203.4 1058.2 L1207.2 1062.0 L1203.4 1065.8 L1199.6 1062.0 Z" fill="#fbf6f0"/><path d="M1357.1 1058.2 L1360.9 1062.0 L1357.1 1065.8 L1353.3 1062.0 Z" fill="#fbf6f0"/><path d="M1510.8 1058.2 L1514.6 1062.0 L1510.8 1065.8 L1507.0 1062.0 Z" fill="#fbf6f0"/><path d="M1664.5 1058.2 L1668.3 1062.0 L1664.5 1065.8 L1660.7 1062.0 Z" fill="#fbf6f0"/><path d="M1818.2 1058.2 L1822.0 1062.0 L1818.2 1065.8 L1814.4 1062.0 Z" fill="#fbf6f0"/><path d="M1971.9 1058.2 L1975.7 1062.0 L1971.9 1065.8 L1968.1 1062.0 Z" fill="#fbf6f0"/><path d="M2125.6 1055.0 L2132.6 1062.0 L2125.6 1069.0 L2118.6 1062.0 Z" fill="#f6efe8" stroke="#bd611d" stroke-width="2.6"/><path d="M2279.3 1055.0 L2286.3 1062.0 L2279.3 1069.0 L2272.3 1062.0 Z" fill="#f6efe8" stroke="#bd611d" stroke-width="2.6"/><path d="M827.5 579 L827.5 515.3 A63.7 63.7 0 1 1 818.5 642.1 Z" fill="url(#ggr)" stroke="#f4f4f4" stroke-width="1.2"/><path d="M827.5 579 L818.5 642.1 A63.7 63.7 0 0 1 827.5 515.3 Z" fill="url(#gor)" stroke="#f4f4f4" stroke-width="1.2"/><rect x="1008" y="1134.5" width="26" height="20" fill="url(#gblue)"/><rect x="1240" y="1134.5" width="26" height="20" fill="url(#gblack)"/><rect x="1405" y="1134.5" width="26" height="20" fill="url(#ggreen)"/><circle cx="1534" cy="1145" r="6" fill="#f6efe8" stroke="#bd611d" stroke-width="3"/><path d="M1698.6 1138 L1705.6 1145 L1698.6 1152 L1691.6 1145 Z" fill="#f6efe8" stroke="#bd611d" stroke-width="2.6"/><text x="1043" y="1152.5" font-size="20.3" font-weight="700" fill="#333" font-family="Liberation Sans">Sold Product Tax</text><text x="1275" y="1152.5" font-size="20.3" font-weight="700" fill="#333" font-family="Liberation Sans">Order Tax</text><text x="1440" y="1152.5" font-size="20.3" font-weight="700" fill="#333" font-family="Liberation Sans">Sales</text><text x="1556" y="1152.5" font-size="20.3" font-weight="700" fill="#333" font-family="Liberation Sans">Purchases</text><text x="1720" y="1152.5" font-size="20.3" font-weight="700" fill="#333" font-family="Liberation Sans">Purchased Product Tax</text></svg><div style="position:absolute;left:876.3px;width:1200px;text-align:center;top:1195.5px;line-height:30px;font-size:23px;color:#353535;font-weight:400;white-space:nowrap;">You can change chart by clicking the chart legend. Click any legend above to show/hide it in chart.</div><div style="position:absolute;left:547.8px;top:1302px;width:1857.7px;height:229px;background:#f1f1f1;border:1px solid #d9dadb;box-sizing:border-box"></div><div style="position:absolute;left:547.8px;top:1302px;width:1857.7px;height:65.5px;background:#ececec;border:1px solid #d9dadb;box-sizing:border-box"></div><div style="position:absolute;left:613px;top:1302px;width:1px;height:65.5px;background:#d9dadb"></div><svg style="position:absolute;left:567px;top:1324.5px;width:27.5px;height:21px" viewBox="0 0 27.5 21"><rect x="0" y="0.0" width="7.5" height="5.6" rx="1.2" fill="#3a7ebf"/><rect x="0" y="7.6" width="7.5" height="5.6" rx="1.2" fill="#3a7ebf"/><rect x="0" y="15.2" width="7.5" height="5.6" rx="1.2" fill="#3a7ebf"/><rect x="10" y="0.0" width="7.5" height="5.6" rx="1.2" fill="#3a7ebf"/><rect x="10" y="7.6" width="7.5" height="5.6" rx="1.2" fill="#3a7ebf"/><rect x="10" y="15.2" width="7.5" height="5.6" rx="1.2" fill="#3a7ebf"/><rect x="20" y="0.0" width="7.5" height="5.6" rx="1.2" fill="#3a7ebf"/><rect x="20" y="7.6" width="7.5" height="5.6" rx="1.2" fill="#3a7ebf"/><rect x="20" y="15.2" width="7.5" height="5.6" rx="1.2" fill="#3a7ebf"/></svg><div style="position:absolute;left:648px;top:1320.0px;line-height:32px;font-size:24.7px;color:#3a7ebf;font-weight:700;white-space:nowrap;">Quick Links</div><div style="position:absolute;left:606.0px;top:1401px;width:100px;height:98.6px;background:#5593cb"></div><svg style="position:absolute;left:639.0px;top:1422px;width:34px;height:34px;" viewBox="0 0 24 24"><rect x="0.5" y="3.5" width="3" height="17" fill="#fbfbfb"/><rect x="4.5" y="3.5" width="1.2" height="17" fill="#fbfbfb"/><rect x="7" y="3.5" width="2.2" height="17" fill="#fbfbfb"/><rect x="10.5" y="3.5" width="1.2" height="17" fill="#fbfbfb"/><rect x="13" y="3.5" width="3" height="17" fill="#fbfbfb"/><rect x="17.5" y="3.5" width="1.2" height="17" fill="#fbfbfb"/><rect x="20" y="3.5" width="3.5" height="17" fill="#fbfbfb"/></svg><div style="position:absolute;left:56.0px;width:1200px;text-align:center;top:1460.0px;line-height:20px;font-size:16.8px;color:#fbfbfb;font-weight:400;white-space:nowrap;">Products</div><div style="position:absolute;left:755.2px;top:1401px;width:100px;height:98.6px;background:#86c96c"></div><svg style="position:absolute;left:788.16px;top:1422px;width:34px;height:34px;" viewBox="0 0 24 24"><path d="M12 22 L2.6 12.8 C-0.4 9.8 0.4 4.6 4.3 3.3 C7.3 2.3 10.4 3.6 12 6.4 C13.6 3.6 16.7 2.3 19.7 3.3 C23.6 4.6 24.4 9.8 21.4 12.8 Z" fill="#fbfbfb"/></svg><div style="position:absolute;left:205.15999999999997px;width:1200px;text-align:center;top:1460.0px;line-height:20px;font-size:16.8px;color:#fbfbfb;font-weight:400;white-space:nowrap;">Sales</div><div style="position:absolute;left:904.3px;top:1401px;width:100px;height:98.6px;background:#ebbd5b"></div><svg style="position:absolute;left:937.3199999999999px;top:1422px;width:34px;height:34px;" viewBox="0 0 24 24"><path d="M12 22 L2.6 12.8 C-0.4 9.8 0.4 4.6 4.3 3.3 C7.3 2.3 10.4 3.6 12 6.4 C13.6 3.6 16.7 2.3 19.7 3.3 C23.6 4.6 24.4 9.8 21.4 12.8 Z" fill="none" stroke="#fbfbfb" stroke-width="1.9" stroke-linejoin="round"/></svg><div style="position:absolute;left:354.31999999999994px;width:1200px;text-align:center;top:1460.0px;line-height:20px;font-size:16.8px;color:#fbfbfb;font-weight:400;white-space:nowrap;">Quotations</div><div style="position:absolute;left:1053.5px;top:1401px;width:100px;height:98.6px;background:#ef6b6b"></div><svg style="position:absolute;left:1086.48px;top:1422px;width:34px;height:34px;" viewBox="0 0 24 24"><polygon points="12.00,1.30 14.94,8.75 22.94,9.25 16.76,14.35 18.76,22.10 12.00,17.80 5.24,22.10 7.24,14.35 1.06,9.25 9.06,8.75" fill="#fbfbfb"/></svg><div style="position:absolute;left:503.48px;width:1200px;text-align:center;top:1460.0px;line-height:20px;font-size:16.8px;color:#fbfbfb;font-weight:400;white-space:nowrap;">Purchases</div><div style="position:absolute;left:1202.6px;top:1401px;width:100px;height:98.6px;background:#e066a1"></div><svg style="position:absolute;left:1235.6399999999999px;top:1422px;width:34px;height:34px;" viewBox="0 0 24 24"><polygon points="12.00,2.80 14.70,9.28 21.70,9.85 16.37,14.42 18.00,21.25 12.00,17.60 6.00,21.25 7.63,14.42 2.30,9.85 9.30,9.28" fill="none" stroke="#fbfbfb" stroke-width="1.9" stroke-linejoin="round"/></svg><div style="position:absolute;left:652.6399999999999px;width:1200px;text-align:center;top:1460.0px;line-height:20px;font-size:16.8px;color:#fbfbfb;font-weight:400;white-space:nowrap;">Transfers</div><div style="position:absolute;left:1351.8px;top:1401px;width:100px;height:98.6px;background:#b7bcc0"></div><svg style="position:absolute;left:1384.8px;top:1422px;width:34px;height:34px;" viewBox="0 0 24 24"><circle cx="12" cy="7.5" r="4.6" fill="#fbfbfb"/><path d="M4.8 23 V18.5 C4.8 13.5 8 12.3 12 12.3 C16 12.3 19.2 13.5 19.2 18.5 V23 Z" fill="#fbfbfb"/><circle cx="4.6" cy="5.8" r="3.3" fill="#fbfbfb"/><path d="M0 19 V14.5 C0 10.5 2.5 9.8 4.6 9.8 C6.5 9.8 7.8 10.3 8.4 11.3 C5.5 12.3 4 14.5 4 17.5 V19 Z" fill="#fbfbfb"/><circle cx="19.4" cy="5.8" r="3.3" fill="#fbfbfb"/><path d="M24 19 V14.5 C24 10.5 21.5 9.8 19.4 9.8 C17.5 9.8 16.2 10.3 15.6 11.3 C18.5 12.3 20 14.5 20 17.5 V19 Z" fill="#fbfbfb"/></svg><div style="position:absolute;left:801.8px;width:1200px;text-align:center;top:1460.0px;line-height:20px;font-size:16.8px;color:#fbfbfb;font-weight:400;white-space:nowrap;">Customers</div><div style="position:absolute;left:1501.0px;top:1401px;width:100px;height:98.6px;background:#b7bcc0"></div><svg style="position:absolute;left:1533.96px;top:1422px;width:34px;height:34px;" viewBox="0 0 24 24"><circle cx="12" cy="7.5" r="4.6" fill="#fbfbfb"/><path d="M4.8 23 V18.5 C4.8 13.5 8 12.3 12 12.3 C16 12.3 19.2 13.5 19.2 18.5 V23 Z" fill="#fbfbfb"/><circle cx="4.6" cy="5.8" r="3.3" fill="#fbfbfb"/><path d="M0 19 V14.5 C0 10.5 2.5 9.8 4.6 9.8 C6.5 9.8 7.8 10.3 8.4 11.3 C5.5 12.3 4 14.5 4 17.5 V19 Z" fill="#fbfbfb"/><circle cx="19.4" cy="5.8" r="3.3" fill="#fbfbfb"/><path d="M24 19 V14.5 C24 10.5 21.5 9.8 19.4 9.8 C17.5 9.8 16.2 10.3 15.6 11.3 C18.5 12.3 20 14.5 20 17.5 V19 Z" fill="#fbfbfb"/></svg><div style="position:absolute;left:950.96px;width:1200px;text-align:center;top:1460.0px;line-height:20px;font-size:16.8px;color:#fbfbfb;font-weight:400;white-space:nowrap;">Suppliers</div><div style="position:absolute;left:1650.1px;top:1401px;width:100px;height:98.6px;background:#71c2dc"></div><svg style="position:absolute;left:1683.12px;top:1422px;width:34px;height:34px;" viewBox="0 0 24 24"><ellipse cx="15" cy="13" rx="8.5" ry="6.5" fill="#fbfbfb"/><path d="M19 17 L23 22 L15 19 Z" fill="#fbfbfb"/><ellipse cx="9.5" cy="9" rx="9" ry="7" fill="#71c2dc"/><ellipse cx="9.5" cy="9" rx="8" ry="6.2" fill="#fbfbfb"/><path d="M4 13 L1.5 18.5 L9 15 Z" fill="#fbfbfb"/></svg><div style="position:absolute;left:1100.12px;width:1200px;text-align:center;top:1460.0px;line-height:20px;font-size:17.4px;color:#fbfbfb;font-weight:400;white-space:nowrap;">Notifications</div><div style="position:absolute;left:1799.3px;top:1401px;width:100px;height:98.6px;background:#86c96c"></div><svg style="position:absolute;left:1832.28px;top:1422px;width:34px;height:34px;" viewBox="0 0 24 24"><path d="M0.5 3 H4.5 L7 15.5 H20 M6.5 6.5 H23 L21 13 H7.8" fill="none" stroke="#fbfbfb" stroke-width="2.6" stroke-linejoin="round"/><path d="M6 6 H23 L21.2 13 H7.5 Z" fill="#fbfbfb"/><circle cx="8.8" cy="20" r="2.2" fill="#fbfbfb"/><circle cx="18.5" cy="20" r="2.2" fill="#fbfbfb"/></svg><div style="position:absolute;left:1249.28px;width:1200px;text-align:center;top:1460.0px;line-height:20px;font-size:16.8px;color:#fbfbfb;font-weight:400;white-space:nowrap;">Buy Now</div><div style="position:absolute;left:1948.4px;top:1401px;width:100px;height:98.6px;background:#5f9bd2"></div><svg style="position:absolute;left:1981.44px;top:1422px;width:34px;height:34px;" viewBox="0 0 24 24"><circle cx="12" cy="7.5" r="4.6" fill="#fbfbfb"/><path d="M4.8 23 V18.5 C4.8 13.5 8 12.3 12 12.3 C16 12.3 19.2 13.5 19.2 18.5 V23 Z" fill="#fbfbfb"/><circle cx="4.6" cy="5.8" r="3.3" fill="#fbfbfb"/><path d="M0 19 V14.5 C0 10.5 2.5 9.8 4.6 9.8 C6.5 9.8 7.8 10.3 8.4 11.3 C5.5 12.3 4 14.5 4 17.5 V19 Z" fill="#fbfbfb"/><circle cx="19.4" cy="5.8" r="3.3" fill="#fbfbfb"/><path d="M24 19 V14.5 C24 10.5 21.5 9.8 19.4 9.8 C17.5 9.8 16.2 10.3 15.6 11.3 C18.5 12.3 20 14.5 20 17.5 V19 Z" fill="#fbfbfb"/></svg><div style="position:absolute;left:1398.44px;width:1200px;text-align:center;top:1460.0px;line-height:20px;font-size:16.8px;color:#fbfbfb;font-weight:400;white-space:nowrap;">Users</div><div style="position:absolute;left:2097.6px;top:1401px;width:100px;height:98.6px;background:#5f9bd2"></div><svg style="position:absolute;left:2130.6px;top:1422px;width:34px;height:34px;" viewBox="0 0 24 24"><path d="M14.17,11.76 L16.42,11.90 L16.42,14.10 L14.17,14.24 L13.38,16.13 L14.88,17.83 L13.33,19.38 L11.63,17.88 L9.74,18.67 L9.60,20.92 L7.40,20.92 L7.26,18.67 L5.37,17.88 L3.67,19.38 L2.12,17.83 L3.62,16.13 L2.83,14.24 L0.58,14.10 L0.58,11.90 L2.83,11.76 L3.62,9.87 L2.12,8.17 L3.67,6.62 L5.37,8.12 L7.26,7.33 L7.40,5.08 L9.60,5.08 L9.74,7.33 L11.63,8.12 L13.33,6.62 L14.88,8.17 L13.38,9.87 Z" fill="#fbfbfb"/><circle cx="8.5" cy="13" r="2.5" fill="#5f9bd2"/><path d="M22.32,4.77 L23.75,4.84 L23.75,6.16 L22.32,6.23 L21.86,7.33 L22.83,8.40 L21.90,9.33 L20.83,8.36 L19.73,8.82 L19.66,10.25 L18.34,10.25 L18.27,8.82 L17.17,8.36 L16.10,9.33 L15.17,8.40 L16.14,7.33 L15.68,6.23 L14.25,6.16 L14.25,4.84 L15.68,4.77 L16.14,3.67 L15.17,2.60 L16.10,1.67 L17.17,2.64 L18.27,2.18 L18.34,0.75 L19.66,0.75 L19.73,2.18 L20.83,2.64 L21.90,1.67 L22.83,2.60 L21.86,3.67 Z" fill="#fbfbfb"/><circle cx="19" cy="5.5" r="1.6" fill="#5f9bd2"/><path d="M22.32,18.27 L23.75,18.34 L23.75,19.66 L22.32,19.73 L21.86,20.83 L22.83,21.90 L21.90,22.83 L20.83,21.86 L19.73,22.32 L19.66,23.75 L18.34,23.75 L18.27,22.32 L17.17,21.86 L16.10,22.83 L15.17,21.90 L16.14,20.83 L15.68,19.73 L14.25,19.66 L14.25,18.34 L15.68,18.27 L16.14,17.17 L15.17,16.10 L16.10,15.17 L17.17,16.14 L18.27,15.68 L18.34,14.25 L19.66,14.25 L19.73,15.68 L20.83,16.14 L21.90,15.17 L22.83,16.10 L21.86,17.17 Z" fill="#fbfbfb"/><circle cx="19" cy="19" r="1.6" fill="#5f9bd2"/></svg><div style="position:absolute;left:1547.6px;width:1200px;text-align:center;top:1460.0px;line-height:20px;font-size:16.8px;color:#fbfbfb;font-weight:400;white-space:nowrap;">Settings</div><div style="position:absolute;left:547.8px;top:1582px;width:1857.7px;height:318px;background:#f1f1f1;border:1px solid #d9dadb;box-sizing:border-box"></div><div style="position:absolute;left:547.8px;top:1582px;width:1857.7px;height:65.5px;background:#ececec;border:1px solid #d9dadb;box-sizing:border-box"></div><div style="position:absolute;left:613px;top:1582px;width:1px;height:65.5px;background:#d9dadb"></div><svg style="position:absolute;left:567.5px;top:1604px;width:27px;height:21px" viewBox="0 0 27 21"><rect x="0" y="0" width="27" height="5.8" rx="1.3" fill="#3a7ebf"/><rect x="0" y="7.6" width="27" height="5.8" rx="1.3" fill="#3a7ebf"/><rect x="0" y="15.2" width="27" height="5.8" rx="1.3" fill="#3a7ebf"/><rect x="19.5" y="2" width="5" height="1.8" fill="#cfe6fb"/><rect x="9.5" y="9.6" width="15" height="1.8" fill="#cfe6fb"/><rect x="15" y="17.2" width="9.5" height="1.8" fill="#cfe6fb"/></svg><div style="position:absolute;left:653px;top:1600.0px;line-height:32px;font-size:26px;color:#3a7ebf;font-weight:700;white-space:nowrap;">Latest Five</div><div style="position:absolute;left:582px;top:1748px;width:1789px;height:200px;border:1px solid #dcdcdc;box-sizing:border-box;background:#f1f1f1"></div><div style="position:absolute;left:686px;top:1690px;width:168.5px;height:59px;background:#e4e5e6;border:1px solid #d6d7d8;box-sizing:border-box"></div><div style="position:absolute;left:169.75px;width:1200px;text-align:center;top:1705.5px;line-height:28px;font-size:23.6px;color:#3d85c6;font-weight:400;white-space:nowrap;">Quotations</div><div style="position:absolute;left:853.5px;top:1690px;width:154.5px;height:59px;background:#e4e5e6;border:1px solid #d6d7d8;box-sizing:border-box"></div><div style="position:absolute;left:330.25px;width:1200px;text-align:center;top:1705.5px;line-height:28px;font-size:22.1px;color:#3d85c6;font-weight:400;white-space:nowrap;">Purchases</div><div style="position:absolute;left:1007px;top:1690px;width:148px;height:59px;background:#e4e5e6;border:1px solid #d6d7d8;box-sizing:border-box"></div><div style="position:absolute;left:480.5px;width:1200px;text-align:center;top:1705.5px;line-height:28px;font-size:22.1px;color:#3d85c6;font-weight:400;white-space:nowrap;">Transfers</div><div style="position:absolute;left:1154px;top:1690px;width:161px;height:59px;background:#e4e5e6;border:1px solid #d6d7d8;box-sizing:border-box"></div><div style="position:absolute;left:634.0px;width:1200px;text-align:center;top:1705.5px;line-height:28px;font-size:22.1px;color:#3d85c6;font-weight:400;white-space:nowrap;">Customers</div><div style="position:absolute;left:1314px;top:1690px;width:147px;height:59px;background:#e4e5e6;border:1px solid #d6d7d8;box-sizing:border-box"></div><div style="position:absolute;left:787.0px;width:1200px;text-align:center;top:1705.5px;line-height:28px;font-size:22.1px;color:#3d85c6;font-weight:400;white-space:nowrap;">Suppliers</div><div style="position:absolute;left:582px;top:1681px;width:104.5px;height:68px;background:#f1f1f1;border:1px solid #dcdcdc;border-bottom:none;box-sizing:border-box"></div><div style="position:absolute;left:608px;top:1701.0px;line-height:28px;font-size:22.3px;color:#444;font-weight:400;white-space:nowrap;">Sales</div><div style="position:absolute;left:600px;top:1764px;width:1754px;height:62px;background:#4289c8"></div><div style="position:absolute;left:648.5px;top:1764px;width:1px;height:62px;background:#3a7ab6"></div><div style="position:absolute;left:932.5px;top:1764px;width:1px;height:62px;background:#3a7ab6"></div><div style="position:absolute;left:1305.5px;top:1764px;width:1px;height:62px;background:#3a7ab6"></div><div style="position:absolute;left:1588.5px;top:1764px;width:1px;height:62px;background:#3a7ab6"></div><div style="position:absolute;left:1773.5px;top:1764px;width:1px;height:62px;background:#3a7ab6"></div><div style="position:absolute;left:1929.5px;top:1764px;width:1px;height:62px;background:#3a7ab6"></div><div style="position:absolute;left:2196.5px;top:1764px;width:1px;height:62px;background:#3a7ab6"></div><div style="position:absolute;left:24.5px;width:1200px;text-align:center;top:1781.0px;line-height:28px;font-size:22.3px;color:#ffffff;font-weight:700;white-space:nowrap;">#</div><div style="position:absolute;left:191.0px;width:1200px;text-align:center;top:1781.0px;line-height:28px;font-size:22.3px;color:#ffffff;font-weight:700;white-space:nowrap;">Date</div><div style="position:absolute;left:519.5px;width:1200px;text-align:center;top:1781.0px;line-height:28px;font-size:22.3px;color:#ffffff;font-weight:700;white-space:nowrap;">Reference No</div><div style="position:absolute;left:847.5px;width:1200px;text-align:center;top:1781.0px;line-height:28px;font-size:22.3px;color:#ffffff;font-weight:700;white-space:nowrap;">Customer</div><div style="position:absolute;left:1081.5px;width:1200px;text-align:center;top:1781.0px;line-height:28px;font-size:22.3px;color:#ffffff;font-weight:700;white-space:nowrap;">Status</div><div style="position:absolute;left:1252.0px;width:1200px;text-align:center;top:1781.0px;line-height:28px;font-size:22.3px;color:#ffffff;font-weight:700;white-space:nowrap;">Total</div><div style="position:absolute;left:1463.5px;width:1200px;text-align:center;top:1781.0px;line-height:28px;font-size:22.3px;color:#ffffff;font-weight:700;white-space:nowrap;">Payment Status</div><div style="position:absolute;left:1675.5px;width:1200px;text-align:center;top:1781.0px;line-height:28px;font-size:22.3px;color:#ffffff;font-weight:700;white-space:nowrap;">Paid</div><div style="position:absolute;left:600px;top:1826px;width:1754px;height:60px;background:#efefef"></div><div style="position:absolute;left:600px;top:1826px;width:1px;height:60px;background:#d9d9d9"></div><div style="position:absolute;left:648.5px;top:1826px;width:1px;height:60px;background:#dcdcdc"></div><div style="position:absolute;left:932.5px;top:1826px;width:1px;height:60px;background:#dcdcdc"></div><div style="position:absolute;left:1305.5px;top:1826px;width:1px;height:60px;background:#dcdcdc"></div><div style="position:absolute;left:1588.5px;top:1826px;width:1px;height:60px;background:#dcdcdc"></div><div style="position:absolute;left:1773.5px;top:1826px;width:1px;height:60px;background:#dcdcdc"></div><div style="position:absolute;left:1929.5px;top:1826px;width:1px;height:60px;background:#dcdcdc"></div><div style="position:absolute;left:2196.5px;top:1826px;width:1px;height:60px;background:#dcdcdc"></div><div style="position:absolute;left:615px;top:1841.5px;line-height:28px;font-size:23.2px;color:#333;font-weight:400;white-space:nowrap;">1</div><div style="position:absolute;left:664px;top:1841.5px;line-height:28px;font-size:23.2px;color:#333;font-weight:400;white-space:nowrap;">27/01/2024 12:22</div><div style="position:absolute;left:946.5px;top:1841.5px;line-height:28px;font-size:23.2px;color:#333;font-weight:400;white-space:nowrap;">SALE2024/01/0007</div><div style="position:absolute;left:1321px;top:1841.5px;line-height:28px;font-size:23.2px;color:#333;font-weight:400;white-space:nowrap;">Demo Customer</div><div style="position:absolute;left:1637px;top:1845px;width:87px;height:26px;background:#eea64a;border-radius:4px"></div><div style="position:absolute;left:1080.5px;width:1200px;text-align:center;top:1848.0px;line-height:22px;font-size:17px;color:#fff;font-weight:700;white-space:nowrap;">Pending</div><div style="position:absolute;right:645px;top:1841.5px;line-height:28px;font-size:23.2px;color:#333;font-weight:400;white-space:nowrap;">4,720.00</div><div style="position:absolute;left:2035.6px;top:1845px;width:53.5px;height:26px;background:#d9534f;border-radius:4px"></div><div style="position:absolute;left:1462.3000000000002px;width:1200px;text-align:center;top:1848.0px;line-height:22px;font-size:17px;color:#fff;font-weight:700;white-space:nowrap;">Due</div><div style="position:absolute;right:222.4000000000001px;top:1841.5px;line-height:28px;font-size:23.2px;color:#333;font-weight:400;white-space:nowrap;">1,000.00</div></div></div><div style="position:absolute;left:119px;top:118px;width:2310px;height:1737px;border-radius:29px;box-sizing:border-box;border:1px solid rgba(70,72,74,0.45);border-bottom:none;pointer-events:none"></div>
</body></html>
